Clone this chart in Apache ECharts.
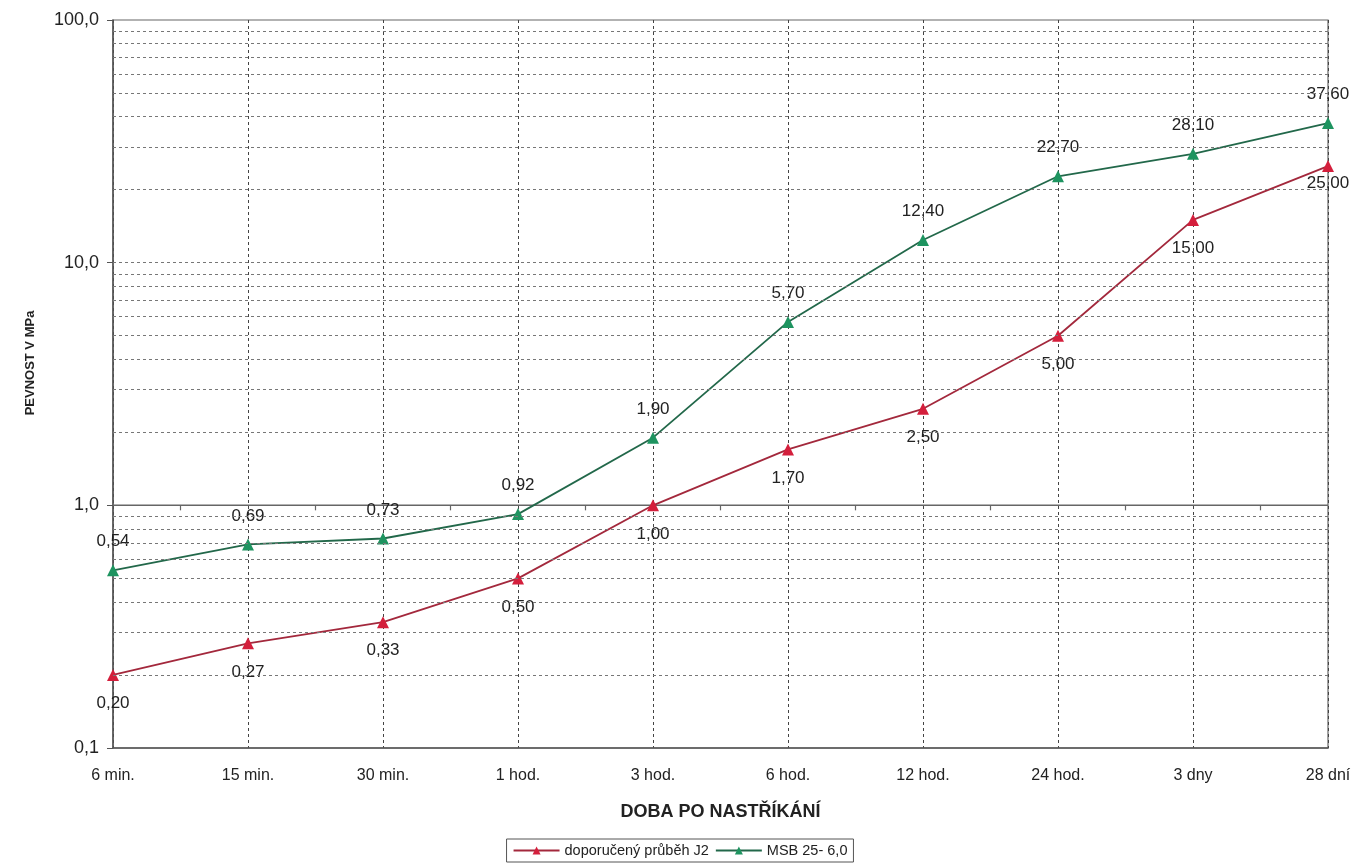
<!DOCTYPE html>
<html>
<head>
<meta charset="utf-8">
<title>Pevnost stříkaného betonu</title>
<script src="https://cdn.jsdelivr.net/npm/echarts@6/dist/echarts.min.js"></script>
<style>
  html, body { margin: 0; padding: 0; background: #ffffff; }
  #chart { width: 1360px; height: 867px; }
</style>
</head>
<body>
<div id="chart"></div>
<script>
// Time after spraying
const categories = ['6 min.', '15 min.', '30 min.', '1 hod.', '3 hod.', '6 hod.', '12 hod.', '24 hod.', '3 dny', '28 dní'];

// Strength in MPa
const recommendedJ2 = [0.20, 0.27, 0.33, 0.50, 1.00, 1.70, 2.50, 5.00, 15.00, 25.00];
const msb25 = [0.54, 0.69, 0.73, 0.92, 1.90, 5.70, 12.40, 22.70, 28.10, 37.60];

const seriesNames = ['doporučený průběh J2', 'MSB 25- 6,0'];

// Dashed minor grid lines of the log scale (2..9 of each decade, plus 10)
const minorGridValues = [0.2, 0.3, 0.4, 0.5, 0.6, 0.7, 0.8, 0.9,
                         2, 3, 4, 5, 6, 7, 8, 9, 10,
                         20, 30, 40, 50, 60, 70, 80, 90];
// Value where the category axis crosses the value axis
const axisCrossValue = 1;

const FONT = '"Liberation Sans", Arial, sans-serif';
const comma = (v, d) => v.toFixed(d).replace('.', ',');

const chart = echarts.init(document.getElementById('chart'), null, { renderer: 'canvas' });

const labelStyle = { fontFamily: FONT, fontSize: 17, color: '#222' };

// the last point of the J2 curve keeps its label tight under the marker
const j2Data = recommendedJ2.map((v, i) =>
  i === recommendedJ2.length - 1 ? { value: v, label: { distance: 3 } } : v);

chart.setOption({
  backgroundColor: '#ffffff',
  animation: false,
  textStyle: { fontFamily: FONT },
  grid: {
    left: 113, right: 32, top: 20, bottom: 119,
    show: true, borderColor: '#666', borderWidth: 1.2, backgroundColor: 'transparent'
  },
  legend: {
    bottom: 5,
    left: 'center',
    data: seriesNames,
    borderColor: '#555',
    borderWidth: 1,
    padding: [4, 6],
    itemGap: 6,
    itemWidth: 46,
    itemHeight: 10,
    textStyle: { fontFamily: FONT, fontSize: 14.5, color: '#222' }
  },
  xAxis: {
    type: 'category',
    data: categories,
    boundaryGap: false,
    name: 'DOBA PO NASTŘÍKÁNÍ',
    nameLocation: 'middle',
    nameGap: 55,
    nameTextStyle: { fontFamily: FONT, fontSize: 18, fontWeight: 'bold', color: '#222' },
    axisLine: { lineStyle: { color: '#555', width: 1.5 } },
    axisTick: { show: false },
    axisLabel: { margin: 20, fontFamily: FONT, fontSize: 16, color: '#222' },
    splitLine: { show: true, lineStyle: { color: '#444', type: [3, 3], width: 1 } }
  },
  yAxis: {
    type: 'log',
    logBase: 10,
    min: 0.1,
    max: 100,
    axisLine: { show: true, lineStyle: { color: '#555', width: 1.5 } },
    axisTick: { show: true, length: 6, lineStyle: { color: '#555' } },
    axisLabel: { margin: 14, fontFamily: FONT, fontSize: 18, color: '#222', formatter: v => comma(v, 1) },
    splitLine: { show: false }
  },
  graphic: [{
    type: 'text',
    x: 30,
    y: 363,
    rotation: Math.PI / 2,
    style: {
      text: 'PEVNOST V MPa',
      font: 'bold 13px ' + FONT,
      fill: '#222',
      align: 'center',
      verticalAlign: 'middle'
    }
  }],
  series: [
    {
      // category axis line drawn at the crossing value, with ticks between categories
      type: 'custom',
      silent: true,
      z: 1,
      data: categories.slice(0, -1).map((c, i) => [i, axisCrossValue]),
      encode: { x: 0, y: 1 },
      renderItem: function (params, api) {
        const i = api.value(0);
        const a = api.coord([i, api.value(1)]);
        const b = api.coord([i + 1, api.value(1)]);
        const mx = (a[0] + b[0]) / 2;
        return {
          type: 'group',
          children: [
            { type: 'line', shape: { x1: a[0], y1: a[1], x2: b[0], y2: b[1] },
              style: { stroke: '#666', lineWidth: 1.5 } },
            { type: 'line', shape: { x1: mx, y1: a[1], x2: mx, y2: a[1] + 5 },
              style: { stroke: '#666', lineWidth: 1.2 } }
          ]
        };
      },
      markLine: {
        silent: true,
        symbol: 'none',
        label: { show: false },
        lineStyle: { color: '#777', type: [3, 3], width: 1 },
        data: minorGridValues.map(v => ({ yAxis: v }))
      }
    },
    {
      name: seriesNames[0],
      type: 'line',
      data: j2Data,
      z: 3,
      symbol: 'triangle',
      symbolSize: 12,
      lineStyle: { color: '#a3283c', width: 1.8 },
      itemStyle: { color: '#d41f3c' },
      label: Object.assign({
        show: true, position: 'bottom', distance: 14,
        formatter: p => comma(p.value, 2)
      }, labelStyle)
    },
    {
      name: seriesNames[1],
      type: 'line',
      data: msb25,
      z: 3,
      symbol: 'triangle',
      symbolSize: 12,
      lineStyle: { color: '#22684a', width: 1.8 },
      itemStyle: { color: '#1e9460' },
      label: Object.assign({
        show: true, position: 'top', distance: 14,
        formatter: p => comma(p.value, 2)
      }, labelStyle)
    }
  ]
});
</script>
</body>
</html>
